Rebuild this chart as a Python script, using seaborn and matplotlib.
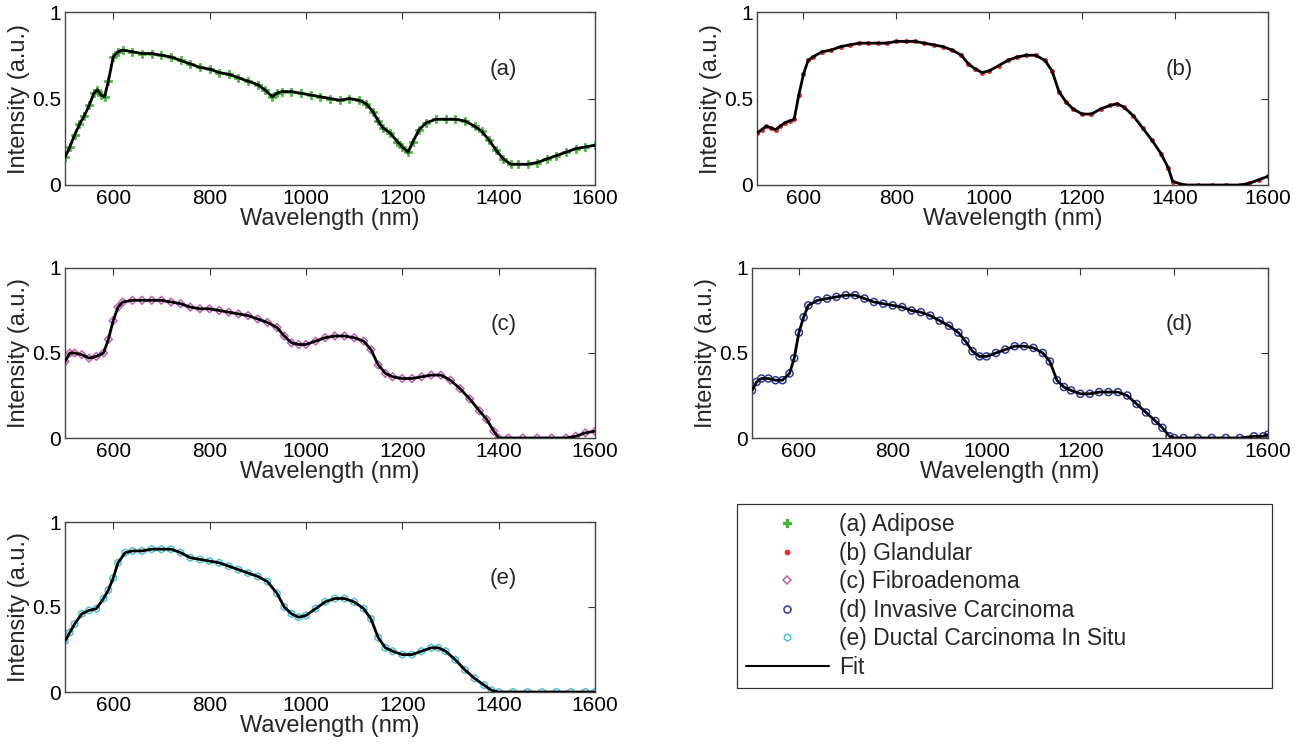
import numpy as np
import pandas as pd
import matplotlib
matplotlib.use("Agg")
import matplotlib.pyplot as plt
from matplotlib.lines import Line2D
import seaborn as sns

# ---------------- data ----------------
wl_a = [500, 510, 520, 530, 540, 550, 560, 567, 575, 582, 590, 600, 610, 620, 640, 660, 680, 700,
        720, 740, 760, 780, 800, 820, 840, 860, 880, 900, 915, 930, 940, 950, 970, 990, 1010, 1030,
        1050, 1070, 1090, 1110, 1125, 1140, 1150, 1160, 1175, 1190, 1200, 1212, 1222, 1235, 1250,
        1270, 1290, 1310, 1330, 1350, 1365, 1380, 1395, 1410, 1425, 1440, 1460, 1480, 1500, 1520,
        1540, 1560, 1580, 1600]
int_a = [0.16, 0.22, 0.29, 0.35, 0.40, 0.46, 0.53, 0.55, 0.52, 0.51, 0.60, 0.74, 0.77, 0.78, 0.77,
         0.76, 0.76, 0.75, 0.74, 0.72, 0.70, 0.68, 0.67, 0.65, 0.64, 0.62, 0.60, 0.58, 0.55, 0.51,
         0.53, 0.54, 0.54, 0.53, 0.52, 0.51, 0.50, 0.49, 0.50, 0.49, 0.47, 0.42, 0.37, 0.33, 0.30,
         0.25, 0.22, 0.19, 0.25, 0.32, 0.36, 0.38, 0.38, 0.38, 0.37, 0.34, 0.31, 0.26, 0.20, 0.15,
         0.12, 0.12, 0.12, 0.13, 0.15, 0.17, 0.19, 0.21, 0.22, 0.23]

wl_b = [500, 510, 520, 530, 540, 550, 560, 570, 580, 590, 600, 610, 620, 640, 660, 680, 700, 720,
        740, 760, 780, 800, 820, 840, 860, 880, 900, 920, 940, 955, 970, 985, 1000, 1020, 1040, 1060,
        1080, 1100, 1120, 1135, 1150, 1165, 1180, 1200, 1220, 1240, 1260, 1275, 1290, 1310, 1330,
        1350, 1370, 1385, 1395, 1420, 1450, 1480, 1510, 1540, 1560, 1580, 1600]
int_b = [0.30, 0.32, 0.34, 0.33, 0.32, 0.34, 0.36, 0.37, 0.38, 0.52, 0.64, 0.72, 0.74, 0.77, 0.78,
         0.80, 0.81, 0.82, 0.82, 0.82, 0.82, 0.83, 0.83, 0.83, 0.82, 0.81, 0.80, 0.78, 0.75, 0.70,
         0.67, 0.65, 0.66, 0.69, 0.72, 0.74, 0.75, 0.75, 0.72, 0.66, 0.54, 0.48, 0.44, 0.41, 0.41,
         0.44, 0.46, 0.47, 0.45, 0.40, 0.33, 0.26, 0.18, 0.10, 0.02, 0.0, 0.0, 0.0, 0.0, 0.0, 0.01,
         0.03, 0.05]

wl_c = [500, 510, 520, 535, 550, 565, 580, 590, 600, 610, 620, 640, 660, 680, 700, 720, 740, 760,
        780, 800, 820, 840, 860, 880, 900, 920, 940, 955, 970, 985, 1000, 1020, 1040, 1060, 1080,
        1100, 1120, 1135, 1150, 1165, 1180, 1200, 1220, 1240, 1260, 1280, 1300, 1320, 1340, 1360,
        1375, 1390, 1400, 1420, 1450, 1480, 1510, 1540, 1560, 1580, 1600]
int_c = [0.45, 0.50, 0.50, 0.49, 0.47, 0.48, 0.50, 0.58, 0.69, 0.77, 0.80, 0.81, 0.81, 0.81, 0.81,
         0.80, 0.79, 0.77, 0.76, 0.76, 0.75, 0.74, 0.73, 0.72, 0.70, 0.68, 0.65, 0.60, 0.56, 0.55,
         0.55, 0.57, 0.59, 0.60, 0.60, 0.59, 0.57, 0.52, 0.43, 0.38, 0.36, 0.35, 0.35, 0.36, 0.37,
         0.37, 0.34, 0.29, 0.23, 0.16, 0.11, 0.04, 0.0, 0.0, 0.0, 0.0, 0.0, 0.0, 0.01, 0.03, 0.04]

wl_d = [500, 510, 520, 535, 550, 565, 580, 590, 600, 610, 620, 640, 660, 680, 700, 720, 740, 760,
        780, 800, 820, 840, 860, 880, 900, 920, 940, 955, 970, 985, 1000, 1020, 1040, 1060, 1080,
        1100, 1120, 1135, 1150, 1165, 1180, 1200, 1220, 1240, 1260, 1280, 1300, 1320, 1340, 1360,
        1375, 1390, 1400, 1420, 1450, 1480, 1510, 1540, 1570, 1590, 1600]
int_d = [0.28, 0.33, 0.35, 0.35, 0.34, 0.34, 0.38, 0.47, 0.62, 0.71, 0.78, 0.81, 0.82, 0.83, 0.84,
         0.84, 0.82, 0.80, 0.79, 0.78, 0.77, 0.75, 0.74, 0.72, 0.69, 0.66, 0.62, 0.57, 0.51, 0.48,
         0.48, 0.50, 0.52, 0.54, 0.54, 0.53, 0.50, 0.45, 0.34, 0.30, 0.28, 0.26, 0.26, 0.27, 0.27,
         0.27, 0.25, 0.20, 0.15, 0.10, 0.06, 0.01, 0.0, 0.0, 0.0, 0.0, 0.0, 0.0, 0.01, 0.01, 0.02]

wl_e = [500, 510, 520, 535, 550, 565, 580, 590, 600, 610, 625, 640, 660, 680, 700, 720, 740, 760,
        780, 800, 820, 840, 860, 880, 900, 920, 940, 955, 970, 985, 1000, 1020, 1040, 1060, 1080,
        1100, 1120, 1135, 1150, 1165, 1180, 1200, 1220, 1240, 1260, 1275, 1290, 1310, 1330, 1350,
        1370, 1385, 1400, 1430, 1460, 1490, 1520, 1550, 1580, 1600]
int_e = [0.30, 0.35, 0.40, 0.46, 0.48, 0.49, 0.55, 0.60, 0.67, 0.76, 0.82, 0.83, 0.83, 0.84, 0.84,
         0.84, 0.82, 0.79, 0.78, 0.77, 0.76, 0.74, 0.72, 0.70, 0.68, 0.65, 0.58, 0.50, 0.46, 0.44,
         0.45, 0.49, 0.53, 0.55, 0.55, 0.53, 0.49, 0.43, 0.32, 0.26, 0.24, 0.22, 0.22, 0.24, 0.26,
         0.26, 0.24, 0.19, 0.13, 0.08, 0.04, 0.01, 0.0, 0.0, 0.0, 0.0, 0.0, 0.0, 0.0, 0.0]

panel_labels = ["(a)", "(b)", "(c)", "(d)", "(e)"]
legend_names = ["(a) Adipose", "(b) Glandular", "(c) Fibroadenoma",
                "(d) Invasive Carcinoma", "(e) Ductal Carcinoma In Situ"]
x_ticks = [600, 800, 1000, 1200, 1400, 1600]
y_ticks = [0, 0.5, 1]
y_ticklabels = ["0", "0.5", "1"]

# ---------------- styling ----------------
sns.set_style("white")
plt.rcParams['font.family'] = ['Liberation Sans', 'DejaVu Sans']

colors = ["#45b83a", "#e8302c", "#c45fb8", "#2b3a9c", "#4fc4d8"]
markers = ["P", "o", "D", "o", "h"]
msizes = [28, 10, 16, 26, 26]
filled = [True, True, False, False, False]

fig = plt.figure(figsize=(13.07, 7.5), dpi=100)

# axes rects in figure fraction [left, bottom, width, height]
rects = [
    [65 / 1307, 1 - 185 / 750, 530 / 1307, 173 / 750],
    [757 / 1307, 1 - 185 / 750, 511 / 1307, 173 / 750],
    [65 / 1307, 1 - 438 / 750, 530 / 1307, 170 / 750],
    [752 / 1307, 1 - 438 / 750, 516 / 1307, 170 / 750],
    [65 / 1307, 1 - 692 / 750, 530 / 1307, 170 / 750],
]

wls = [wl_a, wl_b, wl_c, wl_d, wl_e]
ints = [int_a, int_b, int_c, int_d, int_e]

for i in range(5):
    ax = fig.add_axes(rects[i])
    df = pd.DataFrame({"wl": wls[i], "I": ints[i]})
    if filled[i]:
        sns.scatterplot(data=df, x="wl", y="I", ax=ax, marker=markers[i], s=msizes[i],
                        color=colors[i], edgecolor=colors[i], linewidth=0.5, zorder=2)
    else:
        sns.scatterplot(data=df, x="wl", y="I", ax=ax, marker=markers[i], s=msizes[i],
                        facecolor="none", edgecolor=colors[i], linewidth=1.1, zorder=2)
    sns.lineplot(data=df, x="wl", y="I", ax=ax, color="black", linewidth=2.0, zorder=3)
    ax.set_xlim(500, 1600)
    ax.set_ylim(0, 1)
    ax.set_xticks(x_ticks)
    ax.set_yticks(y_ticks)
    ax.set_yticklabels(y_ticklabels)
    ax.tick_params(direction="in", top=True, right=True, length=5, width=0.8,
                   labelsize=15, pad=3, colors="#333333", labelcolor="black")
    ax.set_xlabel("Wavelength (nm)", fontsize=17, labelpad=0)
    ax.set_ylabel("Intensity (a.u.)", fontsize=17, labelpad=1)
    for sp in ax.spines.values():
        sp.set_visible(True)
        sp.set_color("#444444")
        sp.set_linewidth(1.0)
    ax.text(1410, 0.67, panel_labels[i], fontsize=16, ha="center", va="center")

# legend
handles = []
for i in range(5):
    if filled[i]:
        handles.append(Line2D([], [], linestyle="none", marker=markers[i],
                              markersize=np.sqrt(msizes[i]), color=colors[i]))
    else:
        handles.append(Line2D([], [], linestyle="none", marker=markers[i],
                              markersize=np.sqrt(msizes[i]), markerfacecolor="none",
                              markeredgecolor=colors[i], markeredgewidth=1.1))
handles.append(Line2D([], [], color="black", linewidth=1.5))
labels = legend_names + ["Fit"]

leg = fig.legend(handles, labels, loc="upper left",
                 bbox_to_anchor=(737 / 1307, 1 - 690 / 750, 535 / 1307, 186 / 750),
                 mode="expand", frameon=True, fancybox=False, fontsize=16.5,
                 handlelength=3.6, handletextpad=0.45, labelspacing=0.24,
                 borderpad=0.4, borderaxespad=0)
leg.get_frame().set_edgecolor("black")
leg.get_frame().set_linewidth(0.9)

fig.savefig("out.png", dpi=100)
